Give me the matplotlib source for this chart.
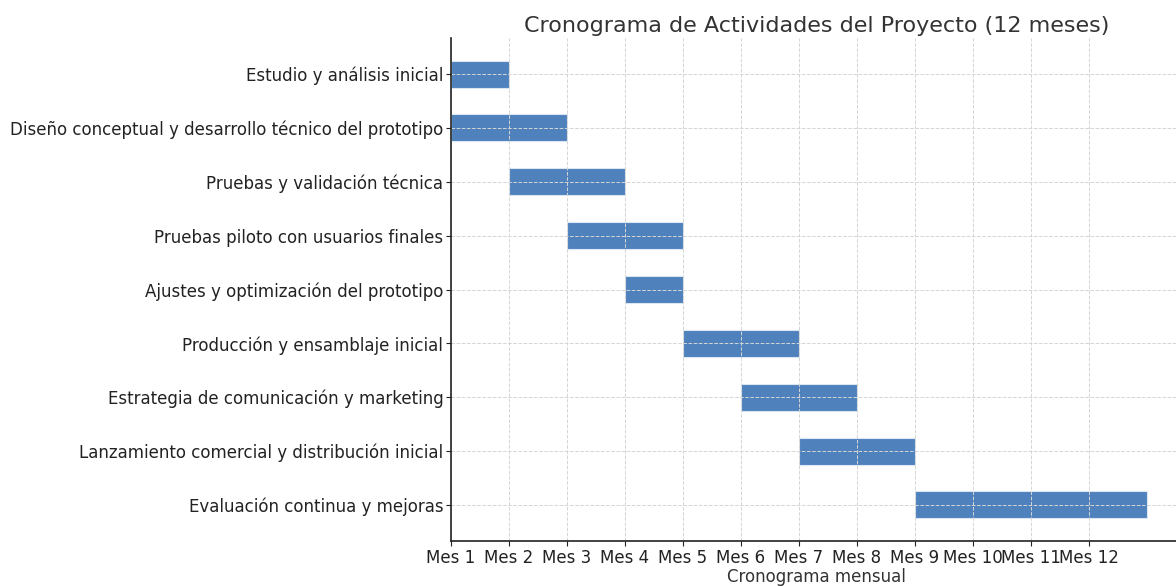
import matplotlib
matplotlib.use("Agg")
from matplotlib import pyplot as plt

# tasks in display order (top to bottom)
tasks = [
    "Estudio y análisis inicial",
    "Diseño conceptual y desarrollo técnico del prototipo",
    "Pruebas y validación técnica",
    "Pruebas piloto con usuarios finales",
    "Ajustes y optimización del prototipo",
    "Producción y ensamblaje inicial",
    "Estrategia de comunicación y marketing",
    "Lanzamiento comercial y distribución inicial",
    "Evaluación continua y mejoras",
]
starts = [0, 0, 1, 2, 3, 4, 5, 6, 8]
durations = [1, 2, 2, 2, 1, 2, 2, 2, 4]
month_labels = ["Mes %d" % i for i in range(1, 13)]

fig = plt.figure(figsize=(11.76, 5.86), dpi=100)
ax = fig.add_axes([451 / 1176, 45 / 586, 730.8 / 1176, 503 / 586])

ax.barh(range(len(tasks)), durations, left=starts, height=0.5,
        color="#4f81bd", edgecolor="#dce6f2", linewidth=0.8)

ax.set_yticks(range(len(tasks)))
ax.set_yticklabels(tasks)
ax.set_ylim(len(tasks) - 1 + 0.67, -0.67)

ax.set_xticks(range(12))
ax.set_xticklabels(month_labels)
ax.set_xlim(0, 12.6)

ax.tick_params(labelsize=12, colors="#222222", pad=2)
ax.grid(True, linestyle="--", color="#d5d5d5", linewidth=0.7)
ax.set_axisbelow(False)

for s in ["top", "right"]:
    ax.spines[s].set_visible(False)
for s in ["left", "bottom"]:
    ax.spines[s].set_zorder(5)
    ax.spines[s].set_linewidth(1.2)
    ax.spines[s].set_color("#222222")

ax.set_xlabel("Cronograma mensual", fontsize=12, color="#333333", labelpad=1)
ax.set_title("Cronograma de Actividades del Proyecto (12 meses)",
             fontsize=16, color="#333333", pad=4)

fig.savefig("out.png", dpi=100)
